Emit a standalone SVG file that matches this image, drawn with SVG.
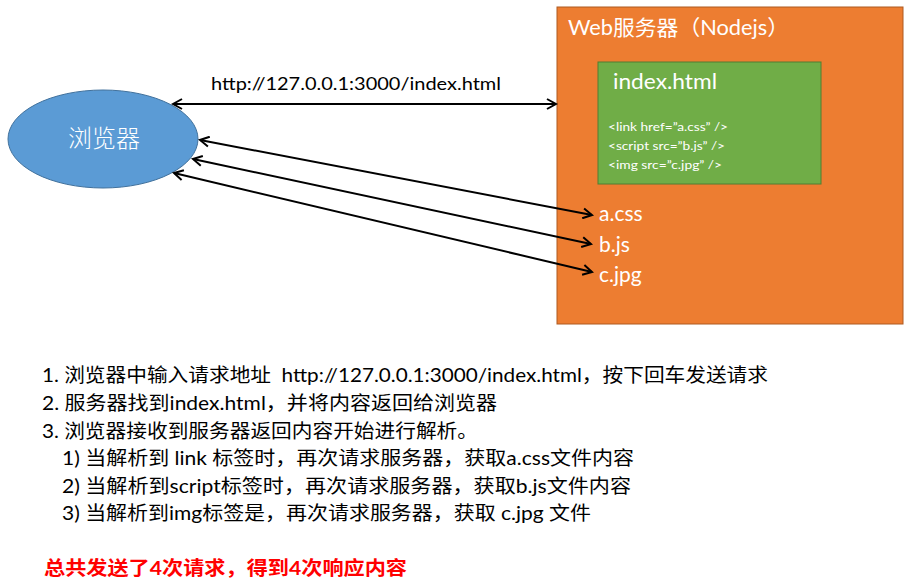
<svg xmlns="http://www.w3.org/2000/svg" width="911" height="586" viewBox="0 0 911 586">
<defs>
<style>
text{font-family:Lato,"Liberation Sans","Noto Sans CJK SC",sans-serif}
.w{fill:#fff}
.b{fill:#000}
.ln{stroke:#000;stroke-width:2;fill:none;marker-start:url(#ah);marker-end:url(#ah)}
.body{font-size:19px;fill:#000}
</style>
<marker id="ah" viewBox="0 0 12 12" refX="10" refY="6" markerWidth="12" markerHeight="12" markerUnits="userSpaceOnUse" orient="auto-start-reverse">
<path d="M1,1 L10,6 L1,11" fill="none" stroke="#000" stroke-width="2"/>
</marker>
</defs>
<rect width="911" height="586" fill="#fff"/>
<g id="server">
<rect x="557" y="7" width="346" height="317" fill="#ED7D31" stroke="#AE5A21" stroke-width="1"/>
<text x="568" y="35" class="w" font-size="21" textLength="221" lengthAdjust="spacingAndGlyphs">Web服务器（Nodejs）</text>
</g>
<g id="index-html">
<rect x="598" y="62" width="223" height="122" fill="#70AD47" stroke="#507E32" stroke-width="1"/>
<text x="613" y="89" class="w" font-size="22" textLength="104" lengthAdjust="spacingAndGlyphs">index.html</text>
<text x="608" y="131" class="w" font-size="11.5" textLength="120" lengthAdjust="spacingAndGlyphs">&lt;link href=”a.css” /&gt;</text>
<text x="608" y="150" class="w" font-size="11.5" textLength="117" lengthAdjust="spacingAndGlyphs">&lt;script src=”b.js” /&gt;</text>
<text x="608" y="169" class="w" font-size="11.5" textLength="114" lengthAdjust="spacingAndGlyphs">&lt;img src=”c.jpg” /&gt;</text>
</g>
<g id="a-css"><text x="599" y="221" class="w" font-size="21">a.css</text></g>
<g id="b-js"><text x="599" y="252" class="w" font-size="21">b.js</text></g>
<g id="c-jpg"><text x="599" y="282" class="w" font-size="21">c.jpg</text></g>
<g id="browser">
<ellipse cx="103" cy="139" rx="95" ry="49" fill="#5B9BD5" stroke="#41719C" stroke-width="1"/>
<text x="104" y="147" class="w" font-size="24" text-anchor="middle" style="font-family:'Noto Sans CJK SC',sans-serif;font-weight:300">浏览器</text>
</g>
<g id="connectors">
<line class="ln" x1="173" y1="104" x2="556" y2="104"/>
<line class="ln" x1="200" y1="140" x2="592" y2="215"/>
<line class="ln" x1="193" y1="159" x2="591" y2="244"/>
<line class="ln" x1="174" y1="173" x2="592" y2="272"/>
<text x="211" y="90" class="b" font-size="17" textLength="290" lengthAdjust="spacingAndGlyphs">http://127.0.0.1:3000/index.html</text>
</g>
<g id="notes">
<text x="42" y="382" class="body" textLength="726" lengthAdjust="spacingAndGlyphs" xml:space="preserve">1. 浏览器中输入请求地址  http://127.0.0.1:3000/index.html，按下回车发送请求</text>
<text x="42" y="410" class="body" textLength="455" lengthAdjust="spacingAndGlyphs">2. 服务器找到index.html，并将内容返回给浏览器</text>
<text x="42" y="438" class="body" textLength="436" lengthAdjust="spacingAndGlyphs">3. 浏览器接收到服务器返回内容开始进行解析。</text>
<text x="62" y="465" class="body" textLength="572" lengthAdjust="spacingAndGlyphs">1) 当解析到 link 标签时，再次请求服务器，获取a.css文件内容</text>
<text x="62" y="493" class="body" textLength="569" lengthAdjust="spacingAndGlyphs">2) 当解析到script标签时，再次请求服务器，获取b.js文件内容</text>
<text x="62" y="520" class="body" textLength="529" lengthAdjust="spacingAndGlyphs">3) 当解析到img标签是，再次请求服务器，获取 c.jpg 文件</text>
<text x="44" y="575" font-size="19" font-weight="bold" fill="#FF0000" textLength="363" lengthAdjust="spacingAndGlyphs">总共发送了4次请求，得到4次响应内容</text>
</g>
</svg>
